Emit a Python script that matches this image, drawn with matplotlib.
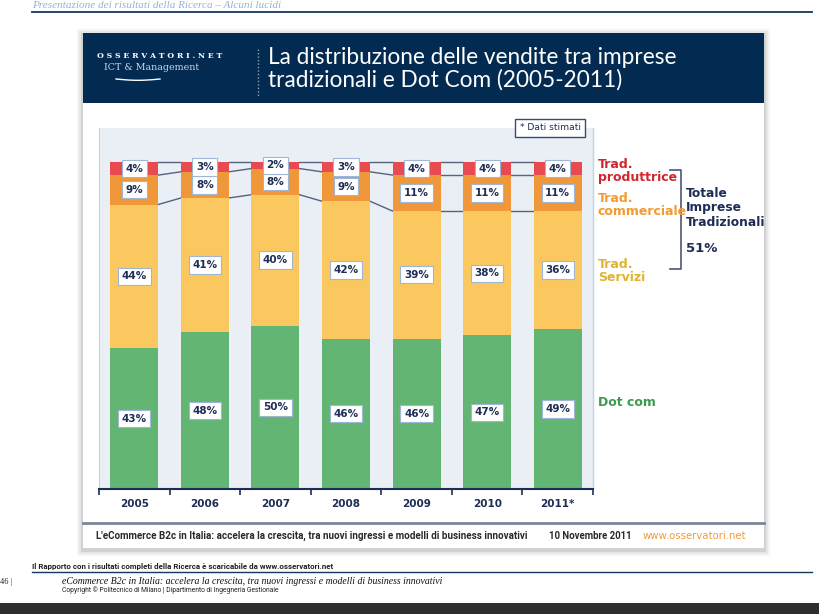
import numpy as np
import matplotlib
matplotlib.use("Agg")
import matplotlib.pyplot as plt
from matplotlib.patches import Rectangle

# data
years = ["2005", "2006", "2007", "2008", "2009", "2010", "2011*"]
dot_com = [43, 48, 50, 46, 46, 47, 49]
trad_servizi = [44, 41, 40, 42, 39, 38, 36]
trad_commerciale = [9, 8, 8, 9, 11, 11, 11]
trad_produttrice = [4, 3, 2, 3, 4, 4, 4]

NAVY = "#1d2d56"
HEAD = "#032b52"
C_GREEN = "#63b574"
C_YELLOW = "#fbc85f"
C_ORANGE = "#f0973a"
C_RED = "#e84a50"

W, H = 819, 614
fig = plt.figure(figsize=(W / 100, H / 100), dpi=100)
fig.patch.set_facecolor("white")

# page background layer in pixel coords
pg = fig.add_axes([0, 0, 1, 1], zorder=0)
pg.set_xlim(0, W)
pg.set_ylim(H, 0)
pg.axis("off")

# top layer for things drawn over the chart
top = fig.add_axes([0, 0, 1, 1], zorder=5)
top.set_xlim(0, W)
top.set_ylim(H, 0)
top.axis("off")
top.patch.set_alpha(0)

# page header
pg.text(32, 5.5, "Presentazione dei risultati della Ricerca – Alcuni lucidi", fontsize=8,
        family="Liberation Serif", style="italic", color="#93b3d3", va="center")
pg.plot([32, 812], [12, 12], color="#15365e", lw=1.3)

# slide shadow + slide
for k, a in [(6, 0.04), (4, 0.06), (2, 0.09)]:
    pg.add_patch(Rectangle((83 - k, 33 - k + 2), 681 + 2 * k, 515 + 2 * k,
                           facecolor="#000000", alpha=a, lw=0))
pg.add_patch(Rectangle((83, 33), 681, 515, facecolor="white", lw=0))
pg.add_patch(Rectangle((83, 33), 681, 70, facecolor=HEAD, lw=0))

# logo
pg.text(97, 56, "O S S E R V A T O R I . N E T", fontsize=5.6, family="DejaVu Serif",
        color="white", va="center", fontweight="bold")
pg.text(104, 68, "ICT & Management", fontsize=6.8, family="DejaVu Serif", color="#c9d3df",
        va="center")
xs = np.linspace(116, 160, 30)
pg.plot(xs, 79 + 1.3 * np.sin((xs - 116) / 44 * np.pi), color="white", lw=1)
pg.plot([258, 258], [49, 96], color="#8fa2b8", lw=1, ls=(0, (1, 1.5)))

# title
pg.text(268, 57, "La distribuzione delle vendite tra imprese", fontsize=16.3,
        family="Lato", color="white", va="center")
pg.text(268, 80, "tradizionali e Dot Com (2005-2011)", fontsize=16.3,
        family="Lato", color="white", va="center")

# chart panel
ax = fig.add_axes([99 / W, 1 - 489 / H, 494 / W, 361 / H], zorder=2)
ax.set_facecolor("#e9eff5")
x = np.arange(len(years))
bw = 0.68
dc = np.array(dot_com)
sv = np.array(trad_servizi)
cm = np.array(trad_commerciale)
pr = np.array(trad_produttrice)
segs = [(dc, np.zeros(7), C_GREEN), (sv, dc, C_YELLOW), (cm, dc + sv, C_ORANGE),
        (pr, dc + sv + cm, C_RED)]
for vals, bot, col in segs:
    ax.bar(x, vals, bw, bottom=bot, color=col, edgecolor="none", zorder=2)
    for xi, v, b in zip(x, vals, bot):
        ax.text(xi, b + v / 2, f"{v}%", ha="center", va="center", fontsize=7.5,
                fontweight="bold", color=NAVY, zorder=5,
                bbox=dict(boxstyle="square,pad=0.35", fc="white", ec="#9fb6d4", lw=0.8))

# connector lines
for lev in [dc + sv + cm + pr, dc + sv + cm, dc + sv]:
    for i in range(len(x) - 1):
        ax.plot([x[i] + bw / 2, x[i + 1] - bw / 2], [lev[i], lev[i + 1]],
                color="#56627e", lw=1, zorder=1)

ax.set_xlim(-0.5, 6.5)
ax.set_ylim(0, 110.4)
ax.set_yticks([])
ax.set_xticks(np.arange(-0.5, 7, 1))
ax.set_xticklabels([])
ax.set_xticks(x, minor=True)
ax.set_xticklabels(years, minor=True, fontsize=7.5, fontweight="bold", color=NAVY)
ax.tick_params(axis="x", which="major", direction="out", length=4, color=NAVY, width=1.2)
ax.tick_params(axis="x", which="minor", length=0, pad=7)
for s in ["top", "right"]:
    ax.spines[s].set_visible(False)
ax.spines["left"].set_color("#c5d3e0")
ax.spines["bottom"].set_color(NAVY)
ax.spines["bottom"].set_linewidth(1.5)
ax.plot([1, 1], [0, 1], transform=ax.transAxes, color="#c5d3e0", lw=1, clip_on=False)

# note box
top.text(550, 128, "* Dati stimati", fontsize=6.6, color=NAVY, ha="center", va="center",
         bbox=dict(boxstyle="square,pad=0.5", fc="white", ec="#3a4a74", lw=1))

# right side labels
kw = dict(fontsize=9, fontweight="semibold", va="center", linespacing=1.0)
pg.text(598, 171, "Trad.\nproduttrice", color="#d0262d", **kw)
pg.text(598, 205, "Trad.\ncommerciale", color="#f59a2c", **kw)
pg.text(598, 271, "Trad.\nServizi", color="#e1b22d", **kw)
pg.text(598, 402, "Dot com", color="#3c9a4f", **kw)
pg.plot([670, 681, 681, 670], [170, 170, 269, 269], color="#4d5677", lw=1.2)
pg.text(686, 208, "Totale\nImprese\nTradizionali", color=NAVY, fontsize=8.8,
        fontweight="semibold", va="center", linespacing=1.15)
pg.text(686, 248, "51%", color=NAVY, fontsize=9.5, fontweight="bold", va="center")

# slide footer
pg.plot([83, 764], [523, 523], color="#7a8699", lw=2)
pg.text(96, 536, "L'eCommerce B2c in Italia: accelera la crescita, tra nuovi ingressi e modelli di business innovativi",
        fontsize=7.1, color="#2a2a2a", va="center", fontweight="bold", family="Roboto")
pg.text(549, 536, "10 Novembre 2011", fontsize=6.9, color="#2a2a2a", va="center",
        fontweight="bold", family="Roboto")
pg.text(643, 536, "www.osservatori.net", fontsize=7.3, color="#f39c3a", va="center")

# page footer
pg.text(32, 566, "Il Rapporto con i risultati completi della Ricerca è scaricabile da www.osservatori.net",
        fontsize=5.7, fontweight="bold", color="#222222", va="center", family="Roboto")
pg.plot([32, 812], [572, 572], color="#15365e", lw=1)
pg.text(0, 582, "46 |", fontsize=6, color="#222222", va="center", family="Liberation Serif")
pg.text(62, 581, "eCommerce B2c in Italia: accelera la crescita, tra nuovi ingressi e modelli di business innovativi",
        fontsize=7.0, style="italic", family="Liberation Serif", color="#111111", va="center")
pg.text(62, 590, "Copyright © Politecnico di Milano | Dipartimento di Ingegneria Gestionale",
        fontsize=4.85, color="#222222", va="center", family="Roboto")
pg.add_patch(Rectangle((0, 603), W, 11, facecolor="#2e2e2e", lw=0))

fig.savefig("out.png", dpi=100)
